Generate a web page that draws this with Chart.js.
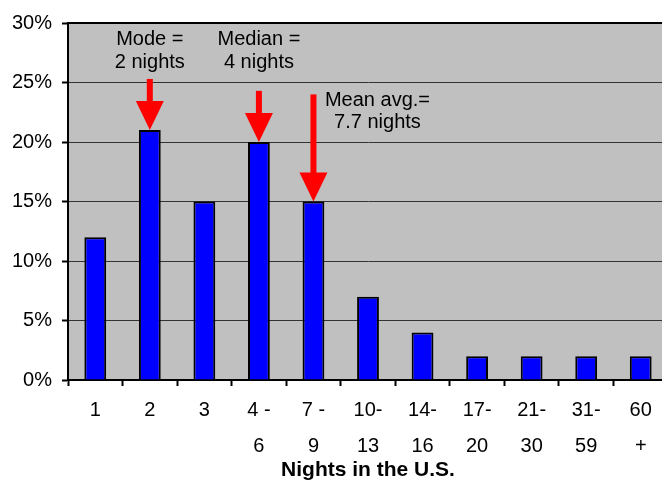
<!DOCTYPE html>
<html>
<head>
<meta charset="utf-8">
<script src="https://cdn.jsdelivr.net/npm/chart.js@4/dist/chart.umd.min.js"></script>
<style>
  html, body { margin: 0; padding: 0; background: #fff; overflow: hidden; }
  #wrap { width: 662px; height: 483px; overflow: hidden; }
</style>
</head>
<body>
<div id="wrap"><canvas id="nights-chart" width="670" height="483"></canvas></div>
<script>
var categories = [['1'], ['2'], ['3'], ['4 -', '6'], ['7 -', '9'], ['10-', '13'], ['14-', '16'], ['17-', '20'], ['21-', '30'], ['31-', '59'], ['60', '+']];
var shares = [12, 21, 15, 20, 15, 7, 4, 2, 2, 2, 2];

// red arrow notes: which bar, where the arrow starts (in %), text
var noteBars = [1, 3, 4];
var noteFrom = [25.3, 24.3, 24];
var noteText = [['Mode =', '2 nights'], ['Median =', '4 nights'], ['Mean avg.=', '7.7 nights']];
var noteTextAt = [28.6, 28.6, 23.5];
var noteTextShift = [0, 0, 64];

var fontName = "'Liberation Sans', Arial, sans-serif";

var notesPlugin = {
    id: 'notes',
    beforeDraw: function (chart) {
        var a = chart.chartArea;
        var ctx = chart.ctx;
        ctx.save();
        ctx.fillStyle = '#C0C0C0';
        ctx.fillRect(a.left, a.top, a.right - a.left, a.bottom - a.top);
        ctx.restore();
    },
    afterDraw: function (chart) {
        var a = chart.chartArea;
        var ctx = chart.ctx;
        var x = chart.scales.x;
        var y = chart.scales.y;
        ctx.save();
        ctx.strokeStyle = '#000';
        ctx.lineWidth = 2;
        ctx.beginPath();
        ctx.moveTo(a.left, a.top);
        ctx.lineTo(a.right, a.top);
        ctx.lineTo(a.right, a.bottom);
        ctx.stroke();

        for (var i = 0; i < noteBars.length; i++) {
            var cx = x.getPixelForValue(noteBars[i]);
            var y0 = y.getPixelForValue(noteFrom[i]);
            var tip = y.getPixelForValue(shares[noteBars[i]]);
            var head = 29;
            ctx.fillStyle = '#FF0000';
            ctx.fillRect(cx - 3, y0, 6, tip - head - y0 + 1);
            ctx.beginPath();
            ctx.moveTo(cx - 14, tip - head);
            ctx.lineTo(cx + 14, tip - head);
            ctx.lineTo(cx, tip);
            ctx.closePath();
            ctx.fill();

            ctx.fillStyle = '#000';
            ctx.font = '20px ' + fontName;
            ctx.textAlign = 'center';
            ctx.textBaseline = 'middle';
            var ty = y.getPixelForValue(noteTextAt[i]);
            for (var j = 0; j < noteText[i].length; j++) {
                ctx.fillText(noteText[i][j], cx + noteTextShift[i], ty + j * 22.5);
            }
        }
        ctx.restore();
    }
};

var ctx = document.getElementById('nights-chart').getContext('2d');
var myChart = new Chart(ctx, {
    type: 'bar',
    data: {
        labels: categories,
        datasets: [{
            data: shares,
            backgroundColor: '#0000FF',
            borderColor: '#000000',
            borderWidth: 2,
            borderSkipped: 'bottom',
            barPercentage: 0.4,
            categoryPercentage: 1.0
        }]
    },
    options: {
        responsive: false,
        animation: false,
        devicePixelRatio: 1,
        layout: { padding: { top: 23, right: 2, left: 0, bottom: 0 } },
        plugins: {
            legend: { display: false },
            tooltip: { enabled: false }
        },
        scales: {
            x: {
                afterFit: function (scale) { scale.height = 103; },
                grid: {
                    drawOnChartArea: false,
                    tickLength: 6,
                    tickColor: '#000',
                    tickWidth: 2
                },
                border: { color: '#000', width: 2 },
                ticks: {
                    color: '#000',
                    padding: 6,
                    maxRotation: 0,
                    autoSkip: false,
                    font: { family: fontName, size: 20, lineHeight: 1.8 }
                },
                title: {
                    display: true,
                    text: 'Nights in the U.S.',
                    color: '#000',
                    padding: 0,
                    font: { family: fontName, size: 21, weight: 'bold', lineHeight: 1.2 }
                }
            },
            y: {
                min: 0,
                max: 30,
                afterFit: function (scale) { scale.width = 68; },
                grid: {
                    color: '#333',
                    lineWidth: 1,
                    tickLength: 6,
                    tickColor: '#000',
                    tickWidth: 2
                },
                border: { color: '#000', width: 2 },
                ticks: {
                    stepSize: 5,
                    color: '#000',
                    padding: 10,
                    font: { family: fontName, size: 20 },
                    callback: function (v) { return v + '%'; }
                }
            }
        }
    },
    plugins: [notesPlugin]
});
</script>
</body>
</html>
